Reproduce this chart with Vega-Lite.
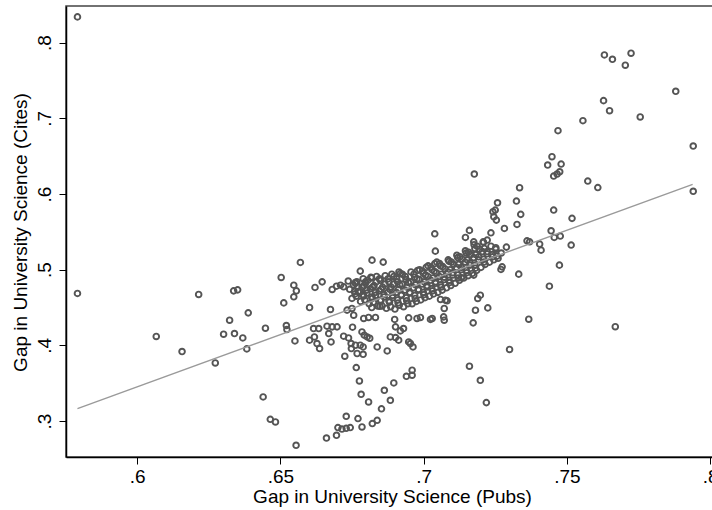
{
"$schema": "https://vega.github.io/schema/vega-lite/v6.json",
"width": 647, "height": 451,
"autosize": "none",
"padding": {"left": 66, "top": 6, "right": 0, "bottom": 53},
"background": "white",
"config": {"view": {"stroke": "#444444", "strokeWidth": 1.5}},
"datasets": {
"pts": [
{"pubs":0.5792,"cites":0.8341},{"pubs":0.5792,"cites":0.4686},{"pubs":0.6067,"cites":0.4117},{"pubs":0.6157,"cites":0.3918},{"pubs":0.6215,"cites":0.4672},{"pubs":0.6273,"cites":0.3767},{"pubs":0.6302,"cites":0.4147},{"pubs":0.6323,"cites":0.4332},{"pubs":0.6340,"cites":0.4156},{"pubs":0.6337,"cites":0.4720},
{"pubs":0.6351,"cites":0.4733},{"pubs":0.6369,"cites":0.4098},{"pubs":0.6383,"cites":0.3953},{"pubs":0.6388,"cites":0.4429},{"pubs":0.6448,"cites":0.4226},{"pubs":0.6503,"cites":0.4897},{"pubs":0.6512,"cites":0.4561},{"pubs":0.6521,"cites":0.4262},{"pubs":0.6523,"cites":0.4209},{"pubs":0.6440,"cites":0.3318},
{"pubs":0.6465,"cites":0.3022},{"pubs":0.6483,"cites":0.2987},{"pubs":0.6555,"cites":0.2679},{"pubs":0.6570,"cites":0.5096},{"pubs":0.6547,"cites":0.4795},{"pubs":0.6556,"cites":0.4720},{"pubs":0.6547,"cites":0.4641},{"pubs":0.6602,"cites":0.4500},{"pubs":0.6551,"cites":0.4058},{"pubs":0.6621,"cites":0.4765},
{"pubs":0.6646,"cites":0.4839},{"pubs":0.6675,"cites":0.4474},{"pubs":0.6681,"cites":0.4738},{"pubs":0.6696,"cites":0.4782},{"pubs":0.6710,"cites":0.4795},{"pubs":0.6721,"cites":0.4773},{"pubs":0.6616,"cites":0.4222},{"pubs":0.6634,"cites":0.4222},{"pubs":0.6602,"cites":0.4068},{"pubs":0.6619,"cites":0.4111},
{"pubs":0.6628,"cites":0.4024},{"pubs":0.6637,"cites":0.3958},{"pubs":0.6663,"cites":0.4253},{"pubs":0.6681,"cites":0.4244},{"pubs":0.6698,"cites":0.4244},{"pubs":0.6669,"cites":0.4156},{"pubs":0.6677,"cites":0.4045},{"pubs":0.6721,"cites":0.4121},{"pubs":0.6738,"cites":0.4098},{"pubs":0.6725,"cites":0.3856},
{"pubs":0.6733,"cites":0.4465},{"pubs":0.6750,"cites":0.4487},{"pubs":0.6756,"cites":0.4398},{"pubs":0.6752,"cites":0.4240},{"pubs":0.6748,"cites":0.3958},{"pubs":0.6762,"cites":0.4001},{"pubs":0.6768,"cites":0.3892},{"pubs":0.6779,"cites":0.4981},{"pubs":0.6789,"cites":0.3979},{"pubs":0.6793,"cites":0.4134},
{"pubs":0.6803,"cites":0.4111},{"pubs":0.6812,"cites":0.4094},{"pubs":0.6789,"cites":0.3882},{"pubs":0.6791,"cites":0.4355},{"pubs":0.6808,"cites":0.4368},{"pubs":0.6832,"cites":0.4368},{"pubs":0.6819,"cites":0.4500},{"pubs":0.6847,"cites":0.4517},{"pubs":0.6820,"cites":0.5126},{"pubs":0.6859,"cites":0.5100},
{"pubs":0.6838,"cites":0.3979},{"pubs":0.6873,"cites":0.3926},{"pubs":0.6884,"cites":0.4111},{"pubs":0.6902,"cites":0.4103},{"pubs":0.6913,"cites":0.4068},{"pubs":0.6902,"cites":0.4244},{"pubs":0.6919,"cites":0.4191},{"pubs":0.6930,"cites":0.4222},{"pubs":0.6899,"cites":0.4342},{"pubs":0.6948,"cites":0.4045},
{"pubs":0.6963,"cites":0.3979},{"pubs":0.6765,"cites":0.3706},{"pubs":0.6776,"cites":0.3529},{"pubs":0.6782,"cites":0.3353},{"pubs":0.6808,"cites":0.3251},{"pubs":0.6730,"cites":0.3062},{"pubs":0.6771,"cites":0.3032},{"pubs":0.6744,"cites":0.2913},{"pubs":0.6730,"cites":0.2903},{"pubs":0.6715,"cites":0.2894},
{"pubs":0.6701,"cites":0.2913},{"pubs":0.6696,"cites":0.2811},{"pubs":0.6661,"cites":0.2775},{"pubs":0.6785,"cites":0.2921},{"pubs":0.6821,"cites":0.2966},{"pubs":0.6838,"cites":0.3009},{"pubs":0.6853,"cites":0.3161},{"pubs":0.6884,"cites":0.3274},{"pubs":0.6863,"cites":0.3406},{"pubs":0.6896,"cites":0.3503},
{"pubs":0.6940,"cites":0.3591},{"pubs":0.6960,"cites":0.3605},{"pubs":0.6960,"cites":0.3671},{"pubs":0.7160,"cites":0.3724},{"pubs":0.7198,"cites":0.3538},{"pubs":0.7219,"cites":0.3243},{"pubs":0.7173,"cites":0.4297},{"pubs":0.7181,"cites":0.4464},{"pubs":0.7189,"cites":0.4619},{"pubs":0.7198,"cites":0.4663},
{"pubs":0.7224,"cites":0.4495},{"pubs":0.7039,"cites":0.5474},{"pubs":0.7160,"cites":0.5519},{"pubs":0.7146,"cites":0.5426},{"pubs":0.7041,"cites":0.5245},{"pubs":0.7132,"cites":0.4892},{"pubs":0.7175,"cites":0.4928},{"pubs":0.7070,"cites":0.4376},{"pubs":0.7030,"cites":0.4355},{"pubs":0.6989,"cites":0.4368},
{"pubs":0.6977,"cites":0.4355},{"pubs":0.6948,"cites":0.4363},{"pubs":0.7072,"cites":0.4487},{"pubs":0.7076,"cites":0.4597},{"pubs":0.7059,"cites":0.4606},{"pubs":0.7082,"cites":0.4588},{"pubs":0.7072,"cites":0.4332},{"pubs":0.7024,"cites":0.4342},{"pubs":0.6954,"cites":0.4024},{"pubs":0.6747,"cites":0.4024},
{"pubs":0.6779,"cites":0.4001},{"pubs":0.6785,"cites":0.4177},{"pubs":0.6762,"cites":0.4818},{"pubs":0.6797,"cites":0.4839},{"pubs":0.6779,"cites":0.4707},
{"pubs":0.7448,"cites":0.6493},{"pubs":0.7433,"cites":0.6383},{"pubs":0.7480,"cites":0.6396},{"pubs":0.7454,"cites":0.6237},{"pubs":0.7466,"cites":0.6264},{"pubs":0.7475,"cites":0.6294},{"pubs":0.7177,"cites":0.6264},{"pubs":0.7335,"cites":0.6083},{"pubs":0.7324,"cites":0.5907},{"pubs":0.7258,"cites":0.5884},
{"pubs":0.7250,"cites":0.5788},{"pubs":0.7242,"cites":0.5765},{"pubs":0.7245,"cites":0.5699},{"pubs":0.7254,"cites":0.5655},{"pubs":0.7339,"cites":0.5731},{"pubs":0.7326,"cites":0.5598},{"pubs":0.7282,"cites":0.5545},{"pubs":0.7235,"cites":0.5487},{"pubs":0.7454,"cites":0.5788},{"pubs":0.7518,"cites":0.5678},
{"pubs":0.7445,"cites":0.5514},{"pubs":0.7456,"cites":0.5426},{"pubs":0.7477,"cites":0.5444},{"pubs":0.7515,"cites":0.5325},{"pubs":0.7361,"cites":0.5381},{"pubs":0.7370,"cites":0.5368},{"pubs":0.7405,"cites":0.5338},{"pubs":0.7410,"cites":0.5258},{"pubs":0.7289,"cites":0.5298},{"pubs":0.7256,"cites":0.5179},
{"pubs":0.7222,"cites":0.5391},{"pubs":0.7208,"cites":0.5368},{"pubs":0.7474,"cites":0.5060},{"pubs":0.7274,"cites":0.5037},{"pubs":0.7270,"cites":0.5003},{"pubs":0.7332,"cites":0.4941},{"pubs":0.7439,"cites":0.4782},{"pubs":0.7367,"cites":0.4345},{"pubs":0.7669,"cites":0.4246},{"pubs":0.7300,"cites":0.3945},
{"pubs":0.7631,"cites":0.7838},{"pubs":0.7659,"cites":0.7781},{"pubs":0.7704,"cites":0.7702},{"pubs":0.7724,"cites":0.7861},{"pubs":0.7880,"cites":0.7358},{"pubs":0.7628,"cites":0.7234},{"pubs":0.7649,"cites":0.7101},{"pubs":0.7756,"cites":0.7018},{"pubs":0.7556,"cites":0.6969},{"pubs":0.7469,"cites":0.6837},
{"pubs":0.7941,"cites":0.6634},{"pubs":0.7573,"cites":0.6171},{"pubs":0.7608,"cites":0.6085},{"pubs":0.7941,"cites":0.6036},{"pubs":0.7175,"cites":0.5368},
{"pubs":0.6750,"cites":0.462},{"pubs":0.6761,"cites":0.468},{"pubs":0.6742,"cites":0.474},{"pubs":0.6755,"cites":0.480},{"pubs":0.6737,"cites":0.485},
{"pubs":0.6780,"cites":0.458},{"pubs":0.6791,"cites":0.465},{"pubs":0.6772,"cites":0.471},{"pubs":0.6785,"cites":0.477},{"pubs":0.6767,"cites":0.484},{"pubs":0.6789,"cites":0.488},
{"pubs":0.6810,"cites":0.455},{"pubs":0.6821,"cites":0.462},{"pubs":0.6802,"cites":0.469},{"pubs":0.6815,"cites":0.475},{"pubs":0.6797,"cites":0.482},{"pubs":0.6819,"cites":0.489},
{"pubs":0.6840,"cites":0.452},{"pubs":0.6851,"cites":0.459},{"pubs":0.6832,"cites":0.466},{"pubs":0.6845,"cites":0.472},{"pubs":0.6827,"cites":0.479},{"pubs":0.6849,"cites":0.486},{"pubs":0.6836,"cites":0.491},
{"pubs":0.6870,"cites":0.449},{"pubs":0.6881,"cites":0.457},{"pubs":0.6862,"cites":0.464},{"pubs":0.6875,"cites":0.470},{"pubs":0.6857,"cites":0.477},{"pubs":0.6879,"cites":0.484},{"pubs":0.6866,"cites":0.492},
{"pubs":0.6900,"cites":0.448},{"pubs":0.6911,"cites":0.456},{"pubs":0.6892,"cites":0.463},{"pubs":0.6905,"cites":0.470},{"pubs":0.6887,"cites":0.477},{"pubs":0.6909,"cites":0.484},{"pubs":0.6896,"cites":0.491},{"pubs":0.6914,"cites":0.497},
{"pubs":0.6930,"cites":0.451},{"pubs":0.6941,"cites":0.459},{"pubs":0.6922,"cites":0.466},{"pubs":0.6935,"cites":0.473},{"pubs":0.6917,"cites":0.480},{"pubs":0.6939,"cites":0.487},{"pubs":0.6926,"cites":0.494},
{"pubs":0.6960,"cites":0.455},{"pubs":0.6971,"cites":0.462},{"pubs":0.6952,"cites":0.469},{"pubs":0.6965,"cites":0.476},{"pubs":0.6947,"cites":0.483},{"pubs":0.6969,"cites":0.490},{"pubs":0.6956,"cites":0.497},
{"pubs":0.6990,"cites":0.460},{"pubs":0.7001,"cites":0.467},{"pubs":0.6982,"cites":0.474},{"pubs":0.6995,"cites":0.481},{"pubs":0.6977,"cites":0.488},{"pubs":0.6999,"cites":0.495},{"pubs":0.6986,"cites":0.500},
{"pubs":0.7020,"cites":0.465},{"pubs":0.7031,"cites":0.472},{"pubs":0.7012,"cites":0.479},{"pubs":0.7025,"cites":0.486},{"pubs":0.7007,"cites":0.493},{"pubs":0.7029,"cites":0.500},{"pubs":0.7016,"cites":0.505},
{"pubs":0.7050,"cites":0.470},{"pubs":0.7061,"cites":0.477},{"pubs":0.7042,"cites":0.484},{"pubs":0.7055,"cites":0.491},{"pubs":0.7037,"cites":0.498},{"pubs":0.7059,"cites":0.505},{"pubs":0.7046,"cites":0.510},
{"pubs":0.7080,"cites":0.476},{"pubs":0.7091,"cites":0.483},{"pubs":0.7072,"cites":0.490},{"pubs":0.7085,"cites":0.497},{"pubs":0.7067,"cites":0.504},{"pubs":0.7089,"cites":0.511},
{"pubs":0.7110,"cites":0.482},{"pubs":0.7121,"cites":0.489},{"pubs":0.7102,"cites":0.496},{"pubs":0.7115,"cites":0.503},{"pubs":0.7097,"cites":0.510},{"pubs":0.7119,"cites":0.516},
{"pubs":0.7140,"cites":0.489},{"pubs":0.7151,"cites":0.496},{"pubs":0.7132,"cites":0.503},{"pubs":0.7145,"cites":0.510},{"pubs":0.7127,"cites":0.517},{"pubs":0.7149,"cites":0.522},
{"pubs":0.7170,"cites":0.495},{"pubs":0.7181,"cites":0.502},{"pubs":0.7162,"cites":0.509},{"pubs":0.7175,"cites":0.516},{"pubs":0.7157,"cites":0.523},{"pubs":0.7179,"cites":0.528},
{"pubs":0.7200,"cites":0.503},{"pubs":0.7211,"cites":0.510},{"pubs":0.7192,"cites":0.517},{"pubs":0.7205,"cites":0.524},{"pubs":0.7187,"cites":0.531},{"pubs":0.7209,"cites":0.536},
{"pubs":0.7230,"cites":0.510},{"pubs":0.7241,"cites":0.517},{"pubs":0.7222,"cites":0.524},{"pubs":0.7235,"cites":0.531},
{"pubs":0.7260,"cites":0.515},{"pubs":0.7271,"cites":0.522},{"pubs":0.7252,"cites":0.529},
{"pubs":0.6765,"cites":0.465},{"pubs":0.6759,"cites":0.471},{"pubs":0.6772,"cites":0.477},{"pubs":0.6762,"cites":0.483},
{"pubs":0.6795,"cites":0.460},{"pubs":0.6789,"cites":0.467},{"pubs":0.6802,"cites":0.473},{"pubs":0.6792,"cites":0.479},{"pubs":0.6805,"cites":0.486},
{"pubs":0.6825,"cites":0.457},{"pubs":0.6819,"cites":0.464},{"pubs":0.6832,"cites":0.470},{"pubs":0.6822,"cites":0.477},{"pubs":0.6835,"cites":0.484},{"pubs":0.6816,"cites":0.490},
{"pubs":0.6855,"cites":0.452},{"pubs":0.6849,"cites":0.460},{"pubs":0.6862,"cites":0.467},{"pubs":0.6852,"cites":0.474},{"pubs":0.6865,"cites":0.481},{"pubs":0.6846,"cites":0.488},
{"pubs":0.6885,"cites":0.451},{"pubs":0.6879,"cites":0.459},{"pubs":0.6892,"cites":0.466},{"pubs":0.6882,"cites":0.474},{"pubs":0.6895,"cites":0.481},{"pubs":0.6876,"cites":0.488},{"pubs":0.6889,"cites":0.494},
{"pubs":0.6915,"cites":0.453},{"pubs":0.6909,"cites":0.460},{"pubs":0.6922,"cites":0.467},{"pubs":0.6912,"cites":0.474},{"pubs":0.6925,"cites":0.481},{"pubs":0.6906,"cites":0.488},{"pubs":0.6919,"cites":0.495},
{"pubs":0.6945,"cites":0.455},{"pubs":0.6939,"cites":0.463},{"pubs":0.6952,"cites":0.470},{"pubs":0.6942,"cites":0.477},{"pubs":0.6955,"cites":0.484},{"pubs":0.6936,"cites":0.491},
{"pubs":0.6975,"cites":0.458},{"pubs":0.6969,"cites":0.466},{"pubs":0.6982,"cites":0.473},{"pubs":0.6972,"cites":0.480},{"pubs":0.6985,"cites":0.487},{"pubs":0.6966,"cites":0.494},{"pubs":0.6979,"cites":0.499},
{"pubs":0.7005,"cites":0.463},{"pubs":0.6999,"cites":0.470},{"pubs":0.7012,"cites":0.477},{"pubs":0.7002,"cites":0.484},{"pubs":0.7015,"cites":0.491},{"pubs":0.6996,"cites":0.498},{"pubs":0.7009,"cites":0.503},
{"pubs":0.7035,"cites":0.468},{"pubs":0.7029,"cites":0.475},{"pubs":0.7042,"cites":0.482},{"pubs":0.7032,"cites":0.489},{"pubs":0.7045,"cites":0.496},{"pubs":0.7026,"cites":0.503},{"pubs":0.7039,"cites":0.508},
{"pubs":0.7065,"cites":0.473},{"pubs":0.7059,"cites":0.480},{"pubs":0.7072,"cites":0.487},{"pubs":0.7062,"cites":0.494},{"pubs":0.7075,"cites":0.501},{"pubs":0.7056,"cites":0.508},
{"pubs":0.7095,"cites":0.479},{"pubs":0.7089,"cites":0.486},{"pubs":0.7102,"cites":0.493},{"pubs":0.7092,"cites":0.500},{"pubs":0.7105,"cites":0.507},{"pubs":0.7086,"cites":0.513},
{"pubs":0.7125,"cites":0.486},{"pubs":0.7119,"cites":0.493},{"pubs":0.7132,"cites":0.500},{"pubs":0.7122,"cites":0.507},{"pubs":0.7135,"cites":0.514},{"pubs":0.7116,"cites":0.519},
{"pubs":0.7155,"cites":0.492},{"pubs":0.7149,"cites":0.499},{"pubs":0.7162,"cites":0.506},{"pubs":0.7152,"cites":0.513},{"pubs":0.7165,"cites":0.520},{"pubs":0.7146,"cites":0.525},
{"pubs":0.7185,"cites":0.499},{"pubs":0.7179,"cites":0.506},{"pubs":0.7192,"cites":0.513},{"pubs":0.7182,"cites":0.520},{"pubs":0.7195,"cites":0.527},{"pubs":0.7176,"cites":0.533},
{"pubs":0.7215,"cites":0.507},{"pubs":0.7209,"cites":0.514},{"pubs":0.7222,"cites":0.521},{"pubs":0.7212,"cites":0.528},
{"pubs":0.7245,"cites":0.513},{"pubs":0.7239,"cites":0.520},{"pubs":0.7252,"cites":0.527}
],
"fit": [{"pubs":0.5792,"cites":0.3164},{"pubs":0.7939,"cites":0.6127}]
},
"layer": [
{
"data": {"name": "pts"},
"mark": {"type": "point", "shape": "circle", "filled": false, "color": "#555555", "strokeWidth": 1.9, "size": 32, "opacity": 1},
"encoding": {
"x": {"field": "pubs", "type": "quantitative",
"scale": {"domain": [0.5752, 0.8010], "nice": false, "zero": false},
"axis": {"values": [0.6, 0.65, 0.7, 0.75, 0.8], "labelExpr": "substring(toString(datum.value), 1)",
"title": "Gap in University Science (Pubs)", "titleFont": "Liberation Sans", "titleFontSize": 19, "titleFontWeight": "normal", "titleColor": "#000000",
"titleX": 326, "titleY": 30,
"labelFont": "Liberation Sans", "labelFontSize": 19, "labelColor": "#000000", "labelPadding": 3, "labelFlush": false, "labelOverlap": false,
"domainColor": "#000000", "domainWidth": 1.5, "tickColor": "#000000", "tickSize": 7, "tickWidth": 1, "grid": false}},
"y": {"field": "cites", "type": "quantitative",
"scale": {"domain": [0.2524, 0.8485], "nice": false, "zero": false},
"axis": {"values": [0.3, 0.4, 0.5, 0.6, 0.7, 0.8], "labelExpr": "substring(toString(datum.value), 1)",
"title": "Gap in University Science (Cites)", "titleFont": "Liberation Sans", "titleFontSize": 19, "titleFontWeight": "normal", "titleColor": "#000000",
"titleX": -36, "titleY": 226,
"labelFont": "Liberation Sans", "labelFontSize": 19, "labelColor": "#000000", "labelPadding": 5, "labelAngle": -90, "labelAlign": "center", "labelBaseline": "bottom", "labelFlush": false, "labelOverlap": false,
"domainColor": "#000000", "domainWidth": 1.5, "tickColor": "#000000", "tickSize": 7, "tickWidth": 1, "grid": false}}
}
},
{
"data": {"name": "fit"},
"mark": {"type": "line", "color": "#9a9a9a", "strokeWidth": 1.4},
"encoding": {
"x": {"field": "pubs", "type": "quantitative"},
"y": {"field": "cites", "type": "quantitative"}
}
}
]
}
